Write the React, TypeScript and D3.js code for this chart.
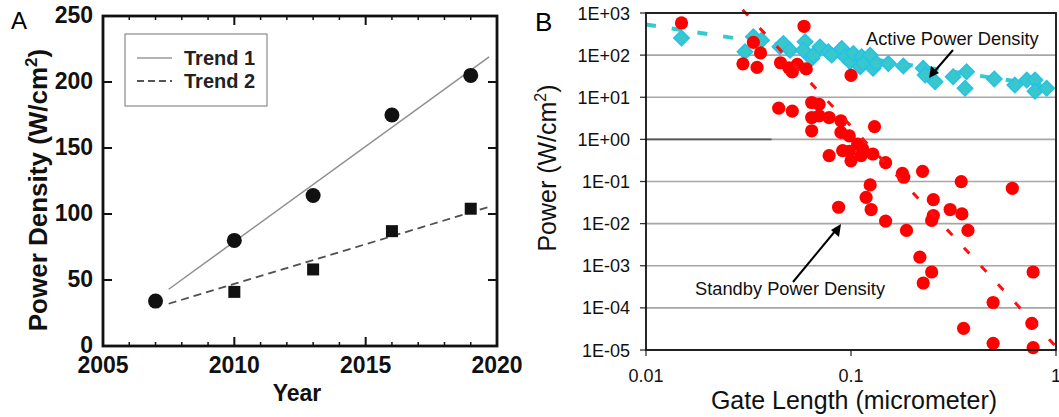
import React from "react";
import * as d3 from "d3";

// ---------- Panel A data ----------
const yearsCircle = [2007, 2010, 2013, 2016, 2019];
const densityCircle = [34, 80, 114, 175, 205];
const yearsSquare = [2010, 2013, 2016, 2019];
const densitySquare = [41, 58, 87, 104];
const trend1Years = [2007.5, 2019.7];
const trend1Values = [43, 219];
const trend2Years = [2007.5, 2019.8];
const trend2Values = [32, 106];
const yearTicks = [2005, 2010, 2015, 2020];
const densityTicks = [0, 50, 100, 150, 200, 250];

// ---------- Panel B data ----------
const activeGate = [
  0.0149, 0.0304, 0.0334, 0.0366, 0.045, 0.0468, 0.0504, 0.0597, 0.0585, 0.0643,
  0.0655, 0.0706, 0.0775, 0.0805, 0.0901, 0.0935, 0.0989, 0.1026, 0.1109, 0.1127,
  0.1148, 0.1239, 0.1281, 0.1334, 0.152, 0.18, 0.225, 0.23, 0.257, 0.315,
  0.366, 0.36, 0.5, 0.63, 0.72, 0.79, 0.79, 0.9,
];
const activePower = [
  255, 120, 272, 227, 157, 190, 131, 207, 131, 83,
  100, 157, 120, 100, 144, 91, 69.5, 110, 53, 91,
  63.4, 100, 49, 63.4, 63.4, 55, 48.5, 33.7, 23.3, 30.7,
  40.4, 16.3, 27, 19.5, 25.6, 25.6, 13.8, 16.3,
];
const standbyGate = [
  0.0149, 0.059, 0.0334, 0.0362, 0.0297, 0.0348, 0.0453, 0.0497, 0.0517, 0.0547,
  0.0605, 0.1, 0.0444, 0.0517, 0.0643, 0.0699, 0.0643, 0.0699, 0.0782, 0.0893,
  0.0643, 0.0893, 0.0981, 0.1302, 0.1078, 0.1141, 0.091, 0.0981, 0.0782, 0.1,
  0.112, 0.1278, 0.1475, 0.1781, 0.1808, 0.2234, 0.3449, 0.6123, 0.124, 0.1185,
  0.087, 0.1254, 0.1475, 0.1865, 0.2521, 0.3045, 0.3475, 0.2521, 0.2474, 0.372,
  0.2168, 0.2474, 0.2251, 0.7735, 0.4936, 0.3541, 0.4936, 0.7621, 0.7735,
];
const standbyPower = [
  580, 484, 200, 113, 62, 51, 66, 50, 40, 60,
  47, 33, 5.5, 4.7, 7.5, 6.8, 3.3, 3.6, 3.3, 2.75,
  1.6, 1.46, 1.21, 2.0, 0.77, 0.59, 0.54, 0.52, 0.41, 0.31,
  0.41, 0.45, 0.28, 0.156, 0.126, 0.174, 0.099, 0.069, 0.083, 0.042,
  0.0245, 0.0216, 0.0115, 0.0069, 0.037, 0.0216, 0.017, 0.0156, 0.0119, 0.0069,
  0.0016, 0.00071, 0.00039, 0.00071, 0.000134, 0.0000327, 0.0000144, 0.0000428, 0.0000114,
];
const activeTrendGate = [0.01, 1];
const activeTrendPower = [533, 17];
const standbyTrendGate = [0.0296, 1];
const standbyTrendPower = [1200, 1.2e-5];
const powerTicks = [1e3, 1e2, 1e1, 1e0, 1e-1, 1e-2, 1e-3, 1e-4, 1e-5];
const powerTickLabels = ["1E+03", "1E+02", "1E+01", "1E+00", "1E-01", "1E-02", "1E-03", "1E-04", "1E-05"];
const gateTicks = [0.01, 0.1, 1];
const gateTickLabels = ["0.01", "0.1", "1"];

const FONT = "'Liberation Sans', Arial, Helvetica, sans-serif";

function PanelA() {
  const L = 103, R = 497, T = 16, B = 346;
  const x = d3.scaleLinear().domain([2005, 2020]).range([L, R]);
  const y = d3.scaleLinear().domain([0, 250]).range([B, T]);
  const line = d3.line<[number, number]>().x((d) => x(d[0])).y((d) => y(d[1]));
  const t1 = trend1Years.map((v, i) => [v, trend1Values[i]] as [number, number]);
  const t2 = trend2Years.map((v, i) => [v, trend2Values[i]] as [number, number]);
  const minorYears = d3.range(2006, 2020).filter((v) => v % 5 !== 0);
  return (
    <g fontFamily={FONT}>
      <text x={11} y={29} fontSize={24} fill="#000">A</text>
      {/* legend */}
      <rect x={125} y={34} width={142} height={72} fill="#fff" stroke="#8a8a8a" strokeWidth={1.2} />
      <line x1={137} x2={172} y1={58} y2={58} stroke="#9a9a9a" strokeWidth={1.5} />
      <line x1={137} x2={172} y1={81} y2={81} stroke="#555" strokeWidth={1.8} strokeDasharray="7,4" />
      <text x={184} y={65} fontSize={20} fontWeight="bold" fill="#222">Trend 1</text>
      <text x={184} y={88} fontSize={20} fontWeight="bold" fill="#222">Trend 2</text>
      {/* trend lines */}
      <path d={line(t1) || ""} fill="none" stroke="#8f8f8f" strokeWidth={1.5} />
      <path d={line(t2) || ""} fill="none" stroke="#505050" strokeWidth={1.8} strokeDasharray="8,5" />
      {/* markers */}
      {yearsCircle.map((yr, i) => (
        <circle key={"c" + i} cx={x(yr)} cy={y(densityCircle[i])} r={7.5} fill="#111" />
      ))}
      {yearsSquare.map((yr, i) => (
        <rect key={"s" + i} x={x(yr) - 6} y={y(densitySquare[i]) - 6} width={12} height={12} fill="#111" />
      ))}
      {/* frame */}
      <rect x={L} y={T} width={R - L} height={B - T} fill="none" stroke="#111" strokeWidth={2.8} />
      {/* ticks */}
      {minorYears.map((yr) => (
        <g key={"m" + yr}>
          <line x1={x(yr)} x2={x(yr)} y1={B} y2={B - 4} stroke="#111" strokeWidth={1.5} />
          <line x1={x(yr)} x2={x(yr)} y1={T} y2={T + 4} stroke="#111" strokeWidth={1.5} />
        </g>
      ))}
      {yearTicks.map((yr) => (
        <g key={"M" + yr}>
          <line x1={x(yr)} x2={x(yr)} y1={B} y2={B - 9} stroke="#111" strokeWidth={2} />
          <line x1={x(yr)} x2={x(yr)} y1={T} y2={T + 9} stroke="#111" strokeWidth={2} />
          <text x={x(yr)} y={373} fontSize={23} fontWeight="bold" textAnchor="middle" fill="#111">{yr}</text>
        </g>
      ))}
      {densityTicks.map((v) => (
        <g key={"y" + v}>
          <line x1={L} x2={L + 9} y1={y(v)} y2={y(v)} stroke="#111" strokeWidth={2} />
          <line x1={R} x2={R - 9} y1={y(v)} y2={y(v)} stroke="#111" strokeWidth={2} />
          <text x={93} y={y(v) + 7} fontSize={23} fontWeight="bold" textAnchor="end" fill="#111">{v}</text>
        </g>
      ))}
      <text x={297} y={401} fontSize={23} fontWeight="bold" textAnchor="middle" fill="#111">Year</text>
      <text transform="translate(47,190) rotate(-90)" fontSize={26} fontWeight="bold" textAnchor="middle" fill="#111">
        Power Density (W/cm<tspan dy={-10} fontSize={17}>2</tspan><tspan dy={10}>)</tspan>
      </text>
    </g>
  );
}

function PanelB() {
  const L = 646, R = 1056, T = 13, B = 350;
  const x = d3.scaleLog().domain([0.01, 1]).range([L, R]);
  const y = d3.scaleLog().domain([1e-5, 1e3]).range([B, T]);
  const line = d3.line<[number, number]>().x((d) => x(d[0])).y((d) => y(d[1]));
  const at = activeTrendGate.map((v, i) => [v, activeTrendPower[i]] as [number, number]);
  const st = standbyTrendGate.map((v, i) => [v, standbyTrendPower[i]] as [number, number]);
  const diamond = d3.symbol().type(d3.symbolSquare).size(118)() || "";
  return (
    <g fontFamily={FONT}>
      <text x={535} y={31} fontSize={26} fill="#000">B</text>
      {/* gridlines */}
      {powerTicks.map((v, i) => (
        <line key={"g" + i} x1={L} x2={R} y1={y(v)} y2={y(v)} stroke="#a6a6a6" strokeWidth={1.6} />
      ))}
      <line x1={L} x2={x(0.041)} y1={y(1)} y2={y(1)} stroke="#555" strokeWidth={1.6} />
      {/* y ticks + labels */}
      {powerTicks.map((v, i) => (
        <g key={"yt" + i}>
          <line x1={L - 6} x2={L} y1={y(v)} y2={y(v)} stroke="#333" strokeWidth={1.3} />
          <text x={630} y={y(v) + 6.5} fontSize={18} textAnchor="end" fill="#111">{powerTickLabels[i]}</text>
        </g>
      ))}
      {gateTicks.map((v, i) => (
        <g key={"xt" + i}>
          <line x1={x(v)} x2={x(v)} y1={B} y2={B + 6} stroke="#333" strokeWidth={1.3} />
          <text x={x(v)} y={382} fontSize={18} textAnchor="middle" fill="#111">{gateTickLabels[i]}</text>
        </g>
      ))}
      {/* trend lines */}
      <path d={line(at) || ""} fill="none" stroke="#33CCCC" strokeWidth={4} strokeDasharray="10,16" />
      {/* diamonds */}
      {activeGate.map((g, i) => (
        <path key={"d" + i} d={diamond} transform={`translate(${x(g)},${y(activePower[i])}) rotate(45)`}
          fill="#3AC7CB" stroke="#22C2EA" strokeWidth={1.5} />
      ))}
      {/* circles */}
      {standbyGate.map((g, i) => (
        <circle key={"r" + i} cx={x(g)} cy={y(standbyPower[i])} r={6.6} fill="#FF0000" />
      ))}
      <path d={line(st) || ""} fill="none" stroke="#FF1010" strokeWidth={3} strokeDasharray="8,17" />
      {/* frame */}
      <rect x={L} y={T} width={R - L} height={B - T} fill="none" stroke="#111" strokeWidth={1.8} />
      {/* annotations */}
      <text x={866} y={45} fontSize={18.3} fill="#111">Active Power Density</text>
      <line x1={953} y1={50} x2={934} y2={72} stroke="#000" strokeWidth={2} />
      <path d="M929,78 L931,66 L939,73 Z" fill="#000" />
      <text x={695} y={295} fontSize={18.3} fill="#111">Standby Power Density</text>
      <line x1={793} y1={282} x2={836} y2={230} stroke="#000" strokeWidth={2} />
      <path d="M841,224 L839,237 L831,230 Z" fill="#000" />
      {/* axis titles */}
      <text x={854} y={409} fontSize={25} textAnchor="middle" fill="#111">Gate Length (micrometer)</text>
      <text transform="translate(556,168) rotate(-90)" fontSize={25} textAnchor="middle" fill="#111">
        Power (W/cm<tspan dy={-10} fontSize={16}>2</tspan><tspan dy={10}>)</tspan>
      </text>
    </g>
  );
}

export default function App() {
  return (
    <svg width={1059} height={417} style={{ position: "absolute", left: 0, top: 0, background: "#fff" }}>
      <rect x={0} y={0} width={1059} height={417} fill="#fff" />
      <PanelA />
      <PanelB />
    </svg>
  );
}
